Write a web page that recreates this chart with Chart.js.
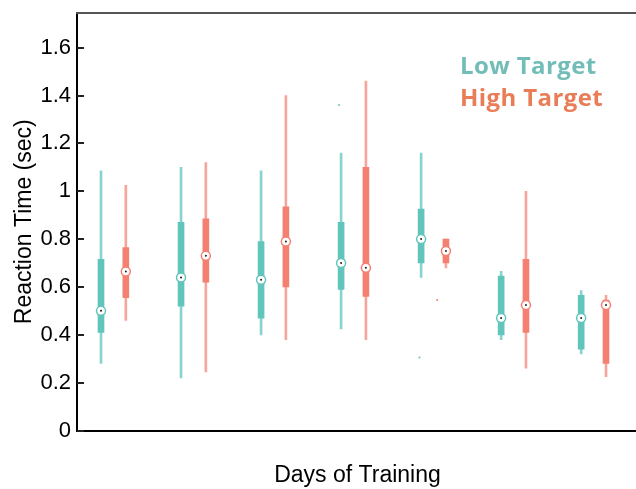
<!DOCTYPE html>
<html>
<head>
<meta charset="utf-8">
<script src="https://cdn.jsdelivr.net/npm/chart.js@4.4.1/dist/chart.umd.min.js"></script>
<style>
  body { margin: 0; background: #fff; overflow: hidden; }
  #wrap { position: relative; width: 644px; height: 489px; }
  .key { position: absolute; left: 460px; font: 700 24px "Open Sans"; line-height: 24px; letter-spacing: 0.4px; white-space: nowrap; }
</style>
</head>
<body>
<div id="wrap">
  <canvas id="rt" width="644" height="489"></canvas>
  <div class="key" style="top:53px;color:#72bdb7">Low Target</div>
  <div class="key" style="top:85px;color:#e97d57">High Target</div>
</div>
<script>
// training days (box positions on the x axis)
const days = [1, 2, 3, 4, 5, 6, 7];
const yTicks = [0, 0.2, 0.4, 0.6, 0.8, 1, 1.2, 1.4, 1.6];
const yTickLabels = ['0', '0.2', '0.4', '0.6', '0.8', '1', '1.2', '1.4', '1.6'];

// low target reaction times (sec)
const lowMin    = [0.28, 0.22, 0.40, 0.425, 0.64, 0.38, 0.32];
const lowQ1     = [0.41, 0.52, 0.47, 0.59, 0.70, 0.40, 0.34];
const lowMedian = [0.50, 0.64, 0.63, 0.70, 0.80, 0.47, 0.47];
const lowQ3     = [0.715, 0.87, 0.79, 0.87, 0.925, 0.645, 0.565];
const lowMax    = [1.085, 1.10, 1.085, 1.16, 1.16, 0.665, 0.585];
const lowOutliers = [{ day: 4, jitter: -0.025, value: 1.36 }, { day: 5, jitter: -0.02, value: 0.305 }];

// high target reaction times (sec)
const highMin    = [0.46, 0.245, 0.38, 0.38, 0.68, 0.26, 0.225];
const highQ1     = [0.555, 0.62, 0.60, 0.56, 0.70, 0.41, 0.28];
const highMedian = [0.665, 0.73, 0.79, 0.68, 0.75, 0.525, 0.525];
const highQ3     = [0.765, 0.885, 0.935, 1.10, 0.80, 0.715, 0.545];
const highMax    = [1.025, 1.12, 1.40, 1.46, 0.80, 1.00, 0.565];
const highOutliers = [{ day: 5, jitter: -0.11, value: 0.545 }];

const highShift = 0.31;

const teal = '#62c5bb', tealLight = '#86d4cd';
const coral = '#f48071', coralLight = '#f6a59b';

const spans = (lo, hi, shift) => days.map((d, i) => ({ x: d + shift, y: [lo[i], hi[i]] }));
const points = (vals, shift) => days.map((d, i) => ({ x: d + shift, y: vals[i] }));
const outl = (list, shift) => list.map(o => ({ x: o.day + shift + o.jitter, y: o.value }));

const bar = (data, color, width, order) => ({
  type: 'bar', data, backgroundColor: color, barThickness: width,
  grouped: false, borderWidth: 0, borderSkipped: false, order
});
const marks = (data, fill, border, r, bw, order) => ({
  type: 'scatter', data, pointRadius: r, pointBackgroundColor: fill,
  pointBorderColor: border, pointBorderWidth: bw, order
});

// inward tick marks on the y axis and the top frame line
const frame = {
  id: 'frame',
  afterDraw(chart) {
    const { ctx, chartArea: a, scales: { y } } = chart;
    ctx.save();
    ctx.fillStyle = '#222';
    yTicks.forEach(v => {
      const py = Math.round(y.getPixelForValue(v));
      ctx.fillRect(a.left, py - 1, 7, 2);
    });
    ctx.strokeStyle = '#555';
    ctx.lineWidth = 2;
    ctx.beginPath(); ctx.moveTo(a.left - 1, a.top); ctx.lineTo(a.right + 2, a.top); ctx.stroke();
    ctx.restore();
  }
};

new Chart(document.getElementById('rt'), {
  type: 'bar',
  data: {
    datasets: [
      bar(spans(lowMin, lowMax, 0), tealLight, 2, 6),
      bar(spans(lowQ1, lowQ3, 0), teal, 6, 5),
      bar(spans(highMin, highMax, highShift), coralLight, 2, 6),
      bar(spans(highQ1, highQ3, highShift), coral, 6, 5),
      marks(points(lowMedian, 0), '#fff', teal, 4.5, 1.5, 3),
      marks(points(highMedian, highShift), '#fff', coral, 4.5, 1.5, 3),
      marks(points(lowMedian, 0), '#222', '#222', 1, 0, 2),
      marks(points(highMedian, highShift), '#222', '#222', 1, 0, 2),
      marks(outl(lowOutliers, 0), teal, teal, 1, 0, 1),
      marks(outl(highOutliers, highShift), coral, coral, 1, 0, 1)
    ]
  },
  options: {
    responsive: false,
    animation: false,
    layout: { padding: { left: 0, right: 1, top: 13, bottom: 0 } },
    plugins: { legend: { display: false }, tooltip: { enabled: false } },
    scales: {
      x: {
        type: 'linear', min: 0.7, max: 7.71, offset: false,
        grid: { display: false, offset: false, drawTicks: false },
        border: { color: '#000', width: 2 },
        ticks: { display: false },
        title: { display: true, text: 'Days of Training', color: '#000',
                 font: { family: 'Liberation Sans', size: 23 }, padding: { top: 0, bottom: 0 } },
        afterFit: s => { s.height = 58.5; s.paddingLeft = 0; s.paddingRight = 0; }
      },
      y: {
        min: 0, max: 1.745,
        grid: { display: false, drawTicks: false },
        border: { color: '#000', width: 2 },
        afterBuildTicks: s => { s.ticks = yTicks.map(v => ({ value: v })); },
        ticks: {
          color: '#000', padding: 6, font: { family: 'Liberation Sans', size: 22 },
          callback: (v, i) => yTickLabels[i]
        },
        title: { display: true, text: 'Reaction Time (sec)', color: '#000',
                 font: { family: 'Liberation Sans', size: 23 }, padding: { top: 11, bottom: 0 } },
        afterFit: s => { s.width = 77; s.paddingTop = 0; s.paddingBottom = 0; }
      }
    }
  },
  plugins: [frame]
});
</script>
</body>
</html>
